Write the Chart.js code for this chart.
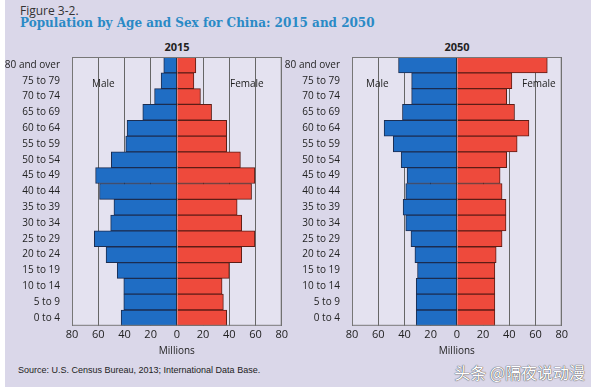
<!DOCTYPE html>
<html lang="en">
<head>
  <meta charset="UTF-8" />
  <title>Population by Age and Sex for China: 2015 and 2050</title>
  <style>
    body { margin: 0; width: 597px; height: 392px; background: #fff; position: relative; overflow: hidden; font-family: "Open Sans", sans-serif; }
    #panel { position: absolute; left: 5px; top: 0; width: 586px; height: 387px; background: #dad7e9; }
    .txt { position: absolute; white-space: nowrap; }
    canvas { position: absolute; }
  </style>
</head>
<body>
  <div id="panel"></div>
  <div class="txt" style="left:20px;top:2px;font-size:12px;color:#333;">Figure 3-2.</div>
  <div class="txt" style="left:20px;top:16px;font:bold 12px 'DejaVu Serif',serif;color:#2a8ac6;">Population by Age and Sex for China: 2015 and 2050</div>

  <div class="txt" style="left:157px;top:39px;width:40px;text-align:center;font:bold 11px 'Open Sans',sans-serif;color:#222;">2015</div>
  <div class="txt" style="left:437px;top:39px;width:40px;text-align:center;font:bold 11px 'Open Sans',sans-serif;color:#222;">2050</div>

  <canvas id="chart2015" width="290" height="317" style="left:0;top:40px;"></canvas>
  <canvas id="chart2050" width="290" height="317" style="left:280px;top:40px;"></canvas>

  <div class="txt" style="left:92px;top:76px;font-size:10px;color:#222;">Male</div>
  <div class="txt" style="left:230px;top:76px;font-size:10px;color:#222;">Female</div>
  <div class="txt" style="left:366px;top:76px;font-size:10px;color:#222;">Male</div>
  <div class="txt" style="left:522px;top:76px;font-size:10px;color:#222;">Female</div>

  <div class="txt" style="left:18px;top:365px;font:9px 'Liberation Sans',sans-serif;color:#222;">Source: U.S. Census Bureau, 2013; International Data Base.</div>
  <div class="txt" style="right:12px;top:360px;font:16px 'Noto Sans CJK SC',sans-serif;color:#fff;text-shadow:0 0 1px #444,0 0 1px #444;">头条 @隔夜说动漫</div>

  <script src="https://cdn.jsdelivr.net/npm/chart.js"></script>
  <script>
    const ageGroups = ['80 and over', '75 to 79', '70 to 74', '65 to 69', '60 to 64', '55 to 59',
      '50 to 54', '45 to 49', '40 to 44', '35 to 39', '30 to 34', '25 to 29', '20 to 24',
      '15 to 19', '10 to 14', '5 to 9', '0 to 4'];

    // millions, top (80+) to bottom (0-4)
    const male2015 = [10, 12, 17, 26, 38, 39, 50, 62, 59, 48, 50.5, 63, 54, 45.5, 40.5, 40.5, 42.5];
    const female2015 = [14.5, 13, 18, 26.5, 38, 38, 48.5, 59.5, 57, 46, 49.5, 59.5, 49.5, 40, 34.5, 35.5, 38];
    const male2050 = [44.5, 34.5, 34.5, 41.5, 55.5, 48.5, 42.5, 38, 39, 41, 39, 35, 32, 30, 31, 31, 31];
    const female2050 = [69, 42, 38, 44, 55, 46, 38, 33, 34.5, 37.5, 37.5, 34.5, 30, 29, 29, 29, 29];

    const plotBox = {
      id: 'plotBox',
      beforeDraw(chart) {
        const a = chart.chartArea, ctx = chart.ctx;
        ctx.save();
        ctx.fillStyle = '#e4e2f0';
        ctx.fillRect(a.left, a.top, a.right - a.left, a.bottom - a.top);
        ctx.restore();
      },
      afterDraw(chart) {
        const a = chart.chartArea, ctx = chart.ctx;
        ctx.save();
        ctx.strokeStyle = '#777';
        ctx.lineWidth = 1;
        ctx.strokeRect(a.left + 0.5, a.top + 0.5, a.right - a.left - 1, a.bottom - a.top - 1);
        ctx.restore();
      }
    };

    function pyramid(id, male, female) {
      new Chart(document.getElementById(id), {
        type: 'bar',
        data: {
          labels: ageGroups,
          datasets: [
            { label: 'Male', data: male.map(v => -v), backgroundColor: '#1f6dc4', borderColor: '#1c2d50', borderWidth: 1 },
            { label: 'Female', data: female, backgroundColor: '#ee4a3c', borderColor: '#5c1d16', borderWidth: 1 }
          ]
        },
        options: {
          indexAxis: 'y',
          responsive: false,
          animation: false,
          layout: { padding: { top: 17, right: 8, left: 0, bottom: 0 } },
          datasets: { bar: { barPercentage: 1, categoryPercentage: 1 } },
          plugins: { legend: { display: false }, tooltip: { enabled: false } },
          scales: {
            x: {
              min: -80, max: 80, stacked: true,
              ticks: { stepSize: 20, callback: v => Math.abs(v), color: '#222', font: { size: 11, family: 'Open Sans' }, padding: 2 },
              grid: { color: ctx => ctx.tick && ctx.tick.value === 0 ? '#222' : '#666', drawTicks: false },
              border: { display: false },
              title: { display: true, text: 'Millions', color: '#222', font: { size: 10, family: 'Open Sans' }, padding: { top: 2, bottom: 0 } }
            },
            y: {
              stacked: true,
              grid: { display: false },
              border: { display: false },
              ticks: { color: '#222', font: { size: 10, family: 'Open Sans' }, padding: 4 },
              afterFit(s) { s.width = 72; }
            }
          }
        },
        plugins: [plotBox]
      });
    }

    pyramid('chart2015', male2015, female2015);
    pyramid('chart2050', male2050, female2050);
  </script>
</body>
</html>
